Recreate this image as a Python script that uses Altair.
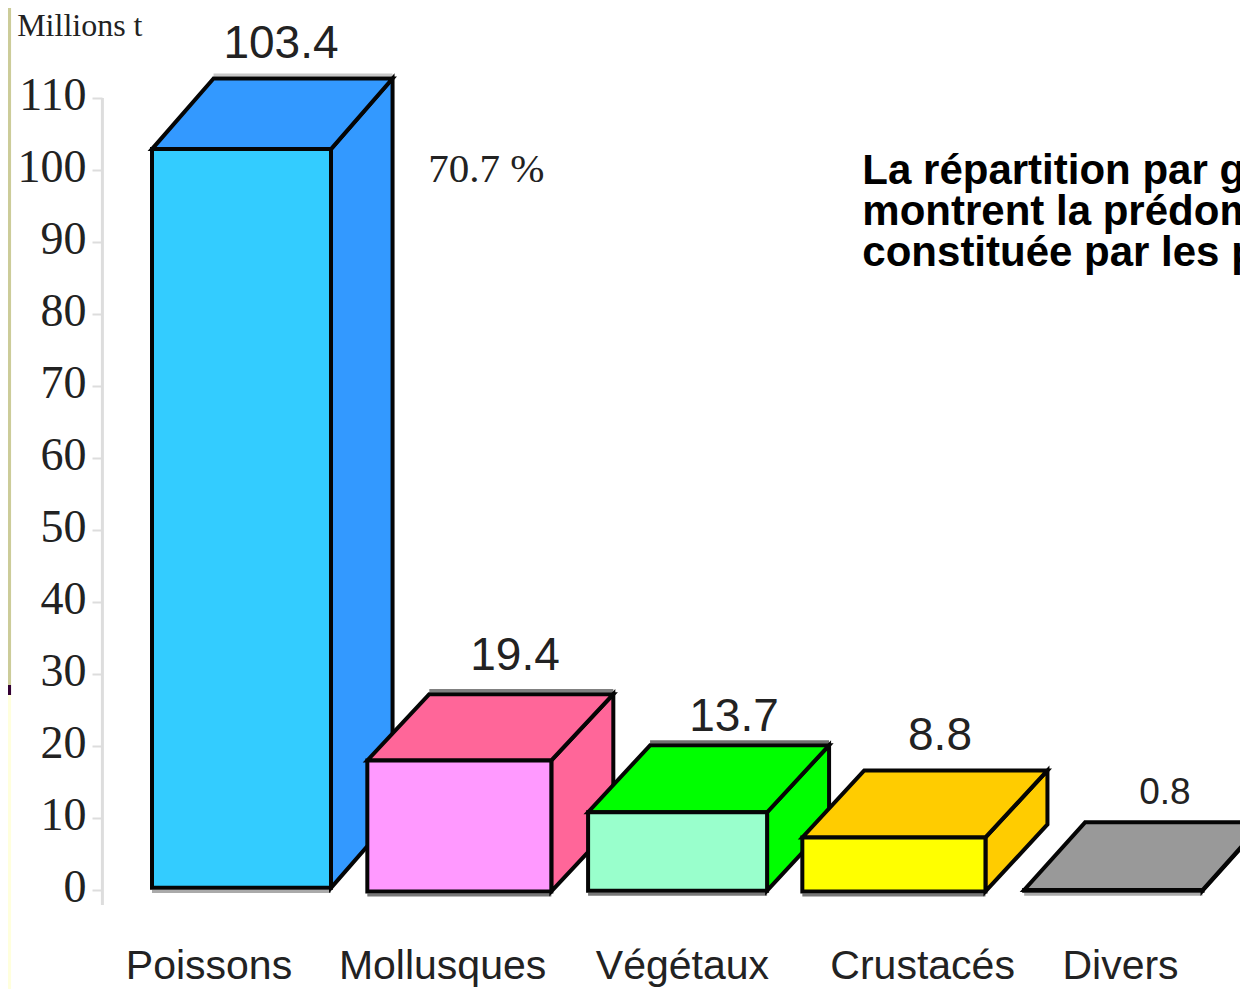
import altair as alt
import pandas as pd

# ---- chart content -------------------------------------------------------
groups = ["Poissons", "Mollusques", "Végétaux", "Crustacés", "Divers"]
labels = ["103.4", "19.4", "13.7", "8.8", "0.8"]
drawn_top = [102.9, 18.0, 10.8, 7.3, 0.0]        # front-face height read on the y axis
drawn_base = [0.3, -0.2, -0.1, -0.2, -0.1]       # front-face foot read on the y axis
slot_start = [0.0, 0.99, 2.005, 2.99, 4.01]      # left edge, in bar slots
slot_end = [0.823, 1.836, 2.828, 3.832, 4.83]    # right edge, in bar slots
depth_x = [0.283, 0.285, 0.285, 0.285, 0.28]     # receding depth, in bar slots
depth_y = [9.8, 9.2, 9.3, 9.3, 9.4]              # receding depth, in Mt
front_col = ["#33ccff", "#ff99ff", "#99ffcc", "#ffff00", "#999999"]
back_col = ["#3399ff", "#ff6699", "#00ff00", "#ffcc00", "#999999"]
top_halo = ["#c8c8c8", "#808080", "#707070", None, None]
foot_halo = ["#aaaaaa", "#777777", "#777777", "#777777", "#aaaaaa"]

label_x = [0.593, 1.669, 2.676, 3.623, 4.657]
label_y = [115.5, 30.5, 22.1, 19.45, 11.95]
label_size = [46, 46, 46, 46, 37]
name_x = [0.262, 1.336, 2.439, 3.543, 4.453]
name_y = -12.3

y_ticks = [0, 10, 20, 30, 40, 50, 60, 70, 80, 90, 100, 110]
para_lines = ["La répartition par g", "montrent la prédom", "constituée par les p"]
para_y = [98.05, 92.35, 86.65]

X_MIN, X_MAX = -0.66207, 5.0023
Y_MIN, Y_MAX = -13.75, 122.5
x_scale = alt.Scale(domain=[X_MIN, X_MAX], nice=False, zero=False)
y_scale = alt.Scale(domain=[Y_MIN, Y_MAX], nice=False, zero=False)
X = lambda f: alt.X(f, type="quantitative", scale=x_scale, axis=None)
Y = lambda f: alt.Y(f, type="quantitative", scale=y_scale, axis=None, stack=None)
back_color = alt.Color("g:N", scale=alt.Scale(domain=groups, range=back_col), legend=None)
front_color = alt.Color("g:N", scale=alt.Scale(domain=groups, range=front_col), legend=None)

side_rows, top_rows, front_rows, halo_rows = [], [], [], []
for i, g in enumerate(groups):
    b, t, l, r, dx, dy = drawn_base[i], drawn_top[i], slot_start[i], slot_end[i], depth_x[i], depth_y[i]
    side_rows += [
        {"g": g, "x": r, "y": b, "y2": t},
        {"g": g, "x": r + dx, "y": b + dy, "y2": t + dy},
    ]
    top_rows += [
        {"g": g, "y": t, "x": l, "x2": r},
        {"g": g, "y": t + dy, "x": l + dx, "x2": r + dx},
    ]
    front_rows.append({"g": g, "x": l, "x2": r, "y": b, "y2": t})
    halo_rows.append({"x": l, "x2": r, "y": b - 0.5, "c": foot_halo[i]})
    if top_halo[i]:
        halo_rows.append({"x": l + dx, "x2": r + dx, "y": t + dy + 0.5, "c": top_halo[i]})

STROKE = dict(stroke="#050505", strokeWidth=4, strokeJoin="miter")

axis_layer = (
    alt.Chart(pd.DataFrame({"v": y_ticks}))
    .mark_point(opacity=0)
    .encode(
        x=alt.value(200),
        y=alt.Y(
            "v:Q",
            scale=y_scale,
            axis=alt.Axis(
                values=y_ticks,
                title=None,
                grid=False,
                domain=False,
                offset=-94,
                tickSize=10,
                tickWidth=2,
                tickColor="#dddddd",
                labelPadding=6,
                labelOffset=-3,
                labelFont="Liberation Serif",
                labelFontSize=46,
                labelColor="#222222",
            ),
        ),
    )
)
axis_line = (
    alt.Chart(pd.DataFrame({"x": [-0.228], "y": [-2.1], "y2": [110.0]}))
    .mark_rule(color="#dddddd", strokeWidth=3)
    .encode(x=X("x"), y=Y("y"), y2="y2")
)

band = pd.DataFrame(
    {
        "x": [X_MIN] * 3,
        "x2": [-0.648] * 3,
        "y": [Y_MAX, 28.47, 27.08],
        "y2": [28.47, 27.08, Y_MIN],
        "c": ["#cccc99", "#330033", "#ffffdd"],
    }
)
band_layer = (
    alt.Chart(band)
    .mark_rect()
    .encode(x=X("x"), x2="x2", y=Y("y"), y2="y2", color=alt.Color("c:N", scale=None, legend=None))
)

halos = (
    alt.Chart(pd.DataFrame(halo_rows))
    .mark_rule(strokeWidth=3)
    .encode(x=X("x"), x2="x2", y=Y("y"), color=alt.Color("c:N", scale=None, legend=None))
)
sides = (
    alt.Chart(pd.DataFrame(side_rows))
    .mark_area(**STROKE, orient="vertical")
    .encode(x=X("x"), y=Y("y"), y2="y2", color=back_color)
)
tops = (
    alt.Chart(pd.DataFrame(top_rows))
    .mark_area(**STROKE, orient="horizontal")
    .encode(y=Y("y"), x=alt.X("x", type="quantitative", scale=x_scale, axis=None, stack=None), x2="x2", color=back_color)
)
fronts = (
    alt.Chart(pd.DataFrame(front_rows))
    .mark_rect(**STROKE)
    .encode(x=X("x"), x2="x2", y=Y("y"), y2="y2", color=front_color)
)

values = (
    alt.Chart(pd.DataFrame({"t": labels, "x": label_x, "y": label_y, "s": label_size}))
    .mark_text(font="Liberation Sans", color="#222222", align="center", baseline="alphabetic")
    .encode(x=X("x"), y=Y("y"), text="t:N", size=alt.Size("s:Q", scale=None, legend=None))
)
names = (
    alt.Chart(pd.DataFrame({"t": groups, "x": name_x, "y": [name_y] * 5}))
    .mark_text(font="Liberation Sans", fontSize=41, color="#222222", align="center", baseline="alphabetic")
    .encode(x=X("x"), y=Y("y"), text="t:N")
)
unit = (
    alt.Chart(pd.DataFrame({"t": ["Millions t"], "x": [-0.62], "y": [118.6]}))
    .mark_text(font="Liberation Serif", fontSize=32, color="#222222", align="left", baseline="alphabetic")
    .encode(x=X("x"), y=Y("y"), text="t:N")
)
share = (
    alt.Chart(pd.DataFrame({"t": ["70.7 %"], "x": [1.27], "y": [98.4]}))
    .mark_text(font="Liberation Serif", fontSize=41, color="#222222", align="left", baseline="alphabetic")
    .encode(x=X("x"), y=Y("y"), text="t:N")
)
para = (
    alt.Chart(pd.DataFrame({"t": para_lines, "x": [3.266] * 3, "y": para_y}))
    .mark_text(font="Liberation Sans", fontSize=42, fontWeight="bold", color="#000000", align="left", baseline="alphabetic")
    .encode(x=X("x"), y=Y("y"), text="t:N")
)

chart = (
    alt.layer(band_layer, axis_line, axis_layer, halos, sides, tops, fronts, values, names, unit, share, para)
    .resolve_scale(color="independent")
    .resolve_axis(y="independent")
    .properties(
        width=1232,
        height=981,
        padding=0,
        autosize=alt.AutoSizeParams(type="none"),
        background="white",
    )
    .configure_view(stroke=None)
)

chart.save("out.html", embed_options={"renderer": "svg", "actions": False})
